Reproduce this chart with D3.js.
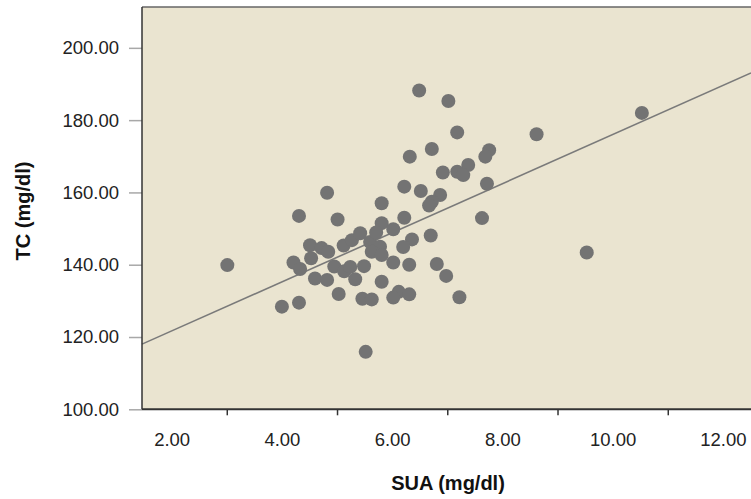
<!DOCTYPE html>
<html>
<head>
<meta charset="utf-8">
<script src="https://cdn.jsdelivr.net/npm/d3@7"></script>
<style>
  html, body { margin: 0; padding: 0; background: #ffffff; }
  svg { display: block; }
  .tick-label { font-family: "Liberation Sans", Arial, sans-serif; font-size: 18.5px; fill: #222; }
  .axis-title { font-family: "Liberation Sans", Arial, sans-serif; font-size: 20px; font-weight: bold; fill: #111; }
</style>
</head>
<body>
<svg id="chart" width="751" height="499"></svg>
<script>
// SUA (mg/dl) readings
const sua = [
  3.01, 4.00, 4.31, 4.31, 4.82, 5.01, 4.21, 4.33, 4.51, 4.53,
  4.72, 4.84, 4.60, 4.82, 5.03, 4.95, 5.13, 5.24, 5.33, 5.12,
  5.27, 5.42, 5.46, 5.63, 5.52, 5.49, 5.60, 5.81, 5.81, 6.02,
  5.71, 5.78, 5.63, 5.81, 6.02, 6.31, 6.81, 6.98, 5.81, 6.12,
  6.31, 6.02, 7.22, 6.22, 6.52, 6.87, 6.72, 6.67, 6.22, 7.63,
  6.70, 6.36, 6.20, 7.72, 6.49, 7.02, 7.18, 8.62, 6.72, 6.32,
  7.76, 7.69, 7.38, 6.92, 7.18, 7.29, 10.53, 9.53
];
// TC (mg/dl) readings, same order
const tc = [
  139.9, 128.4, 129.5, 153.5, 159.9, 152.5, 140.6, 138.8, 145.4, 141.8,
  144.6, 143.6, 136.2, 135.8, 131.9, 139.5, 138.2, 139.4, 136.0, 145.3,
  146.8, 148.7, 130.6, 130.4, 115.9, 139.6, 146.3, 157.0, 151.5, 149.8,
  148.9, 145.0, 143.6, 142.7, 140.6, 140.0, 140.2, 136.9, 135.3, 132.5,
  131.8, 130.9, 131.0, 161.6, 160.4, 159.3, 157.4, 156.4, 153.0, 152.9,
  148.1, 147.0, 144.9, 162.4, 188.2, 185.3, 176.6, 176.1, 172.0, 169.9,
  171.7, 169.9, 167.6, 165.5, 165.7, 164.8, 182.0, 143.4
];

const xLabelValues = [2, 4, 6, 8, 10, 12];
const xTickMarks = [3, 5, 7, 9, 11];
const yTickValues = [100, 120, 140, 160, 180, 200];

// fit line
const fitIntercept = 108.1;
const fitSlope = 6.79;

const svg = d3.select("#chart");

const plot = { left: 142, top: 7, right: 751, bottom: 409.3 };

const x = d3.scaleLinear().domain([1.462, 12.51]).range([plot.left, plot.right]);
const y = d3.scaleLinear().domain([100, 211.3]).range([plot.bottom, plot.top]);

const fmt = d3.format(".2f");

// plot background
svg.append("rect")
    .attr("x", plot.left)
    .attr("y", plot.top)
    .attr("width", plot.right - plot.left + 5)
    .attr("height", plot.bottom - plot.top)
    .attr("fill", "#eae4d0");

// y axis ticks + labels
const yAxis = d3.axisLeft(y)
    .tickValues(yTickValues)
    .tickFormat(fmt)
    .tickSize(13)
    .tickPadding(10);

const gy = svg.append("g")
    .attr("transform", `translate(${plot.left},0)`)
    .call(yAxis);
gy.select(".domain").remove();
gy.selectAll(".tick line").attr("stroke", "#a8a8a8").attr("stroke-width", 1.5);
gy.selectAll(".tick text").attr("class", "tick-label").attr("font-size", null).attr("font-family", null);

// x axis: short marks at odd values, labels at even values
const gxMarks = svg.append("g")
    .attr("transform", `translate(0,${plot.bottom})`)
    .call(d3.axisBottom(x).tickValues(xTickMarks).tickSize(6).tickFormat(""));
gxMarks.select(".domain").remove();
gxMarks.selectAll(".tick line").attr("stroke", "#333").attr("stroke-width", 1.5);

const gxLabels = svg.append("g")
    .attr("transform", `translate(0,${plot.bottom})`)
    .call(d3.axisBottom(x).tickValues(xLabelValues).tickSize(0).tickPadding(24).tickFormat(fmt));
gxLabels.select(".domain").remove();
gxLabels.selectAll(".tick text").attr("class", "tick-label").attr("font-size", null).attr("font-family", null);

// fit line
const xs = x.domain();
svg.append("line")
    .attr("x1", x(xs[0])).attr("y1", y(fitIntercept + fitSlope * xs[0]))
    .attr("x2", x(xs[1])).attr("y2", y(fitIntercept + fitSlope * xs[1]))
    .attr("stroke", "#7a7a7a")
    .attr("stroke-width", 1.6);

// points
svg.append("g")
    .selectAll("circle")
    .data(sua.map((v, i) => [v, tc[i]]))
    .enter().append("circle")
    .attr("cx", d => x(d[0]))
    .attr("cy", d => y(d[1]))
    .attr("r", 7)
    .attr("fill", "#737373");

// frame
svg.append("line")
    .attr("x1", plot.left).attr("x2", plot.right)
    .attr("y1", plot.top).attr("y2", plot.top)
    .attr("stroke", "#666").attr("stroke-width", 1.5);
svg.append("line")
    .attr("x1", plot.left).attr("x2", plot.left)
    .attr("y1", plot.top).attr("y2", plot.bottom)
    .attr("stroke", "#333").attr("stroke-width", 1.5);
svg.append("line")
    .attr("x1", plot.left).attr("x2", plot.right)
    .attr("y1", plot.bottom).attr("y2", plot.bottom)
    .attr("stroke", "#333").attr("stroke-width", 2);

// axis titles
svg.append("text")
    .attr("class", "axis-title")
    .attr("x", 448)
    .attr("y", 490)
    .attr("text-anchor", "middle")
    .text("SUA (mg/dl)");

svg.append("text")
    .attr("class", "axis-title")
    .attr("transform", "translate(30,211) rotate(-90)")
    .attr("text-anchor", "middle")
    .text("TC (mg/dl)");
</script>
</body>
</html>
